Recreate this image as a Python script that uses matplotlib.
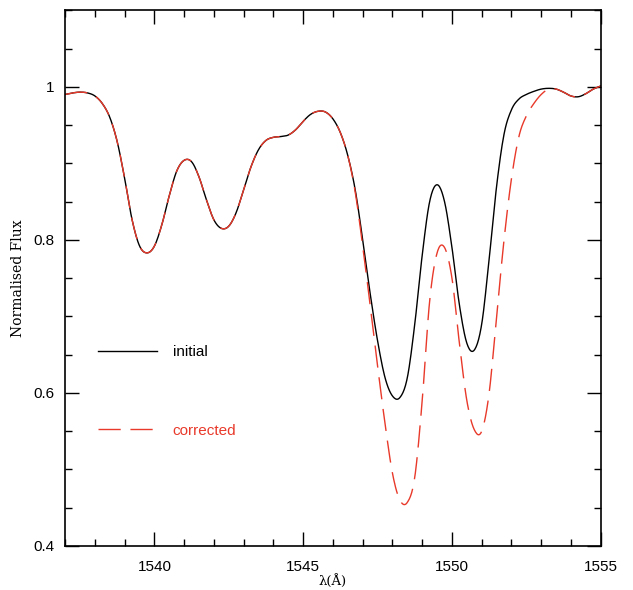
import numpy as np
import matplotlib
matplotlib.use("Agg")
import matplotlib.pyplot as plt
from matplotlib.ticker import MultipleLocator

wave = np.arange(1537.0, 1555.01, 0.25)
initial = [0.990,0.992,0.993,0.992,0.988,0.978,0.960,0.928,0.880,0.826,0.792,0.783,
           0.792,0.820,0.858,0.890,0.904,0.902,0.882,0.852,0.826,0.815,0.818,0.836,
           0.866,0.896,0.918,0.930,0.934,0.935,0.937,0.944,0.955,0.964,0.968,0.967,
           0.958,0.940,0.910,0.865,0.800,0.730,0.668,0.620,0.596,0.594,0.620,0.690,
           0.780,0.850,0.872,0.850,0.790,0.715,0.665,0.656,0.690,0.775,0.870,0.938,
           0.970,0.984,0.990,0.994,0.997,0.998,0.997,0.993,0.988,0.987,0.991,0.997,1.001]
corrected = [0.990,0.992,0.993,0.992,0.988,0.978,0.960,0.928,0.880,0.826,0.792,0.783,
           0.792,0.820,0.858,0.890,0.904,0.902,0.882,0.852,0.826,0.815,0.818,0.836,
           0.866,0.896,0.918,0.930,0.934,0.935,0.937,0.944,0.955,0.964,0.968,0.967,
           0.958,0.940,0.910,0.862,0.792,0.715,0.635,0.560,0.495,0.460,0.457,0.490,
           0.590,0.720,0.783,0.790,0.750,0.665,0.590,0.552,0.550,0.600,0.700,0.800,
           0.880,0.935,0.962,0.978,0.990,0.997,0.997,0.993,0.988,0.987,0.991,0.997,1.001]


def smooth_render(x, y, n=12):
    """Catmull-Rom rendering of the read points (curve passes through each point)."""
    x = np.asarray(x, float); y = np.asarray(y, float)
    yp = np.concatenate([[2*y[0]-y[1]], y, [2*y[-1]-y[-2]]])
    xs, ys = [], []
    t = np.linspace(0, 1, n, endpoint=False)
    for i in range(len(x)-1):
        p0, p1, p2, p3 = yp[i], yp[i+1], yp[i+2], yp[i+3]
        yy = 0.5*((2*p1) + (-p0+p2)*t + (2*p0-5*p1+4*p2-p3)*t**2 + (-p0+3*p1-3*p2+p3)*t**3)
        xs.append(x[i] + (x[i+1]-x[i])*t); ys.append(yy)
    xs.append([x[-1]]); ys.append([y[-1]])
    return np.concatenate(xs), np.concatenate(ys)


plt.rcParams['font.family'] = ['Liberation Sans', 'DejaVu Sans']
fig = plt.figure(figsize=(6.33, 5.9), dpi=100)
ax = fig.add_axes([0.103, 0.0746, 0.846, 0.908])
ax.plot(*smooth_render(wave, initial), color='black', lw=1.0, label='initial')
ax.plot(*smooth_render(wave, corrected), color='#e8392a', lw=1.0, dashes=(16, 7), label='corrected')
ax.set_xlim(1537, 1555)
ax.set_ylim(0.4, 1.1)
ax.xaxis.set_major_locator(MultipleLocator(5))
ax.xaxis.set_minor_locator(MultipleLocator(1))
ax.yaxis.set_minor_locator(MultipleLocator(0.05))
ax.set_yticks([0.4, 0.6, 0.8, 1.0])
ax.set_yticklabels(['0.4', '0.6', '0.8', '1'])
ax.tick_params(which='both', direction='in', top=True, right=True, labelsize=11)
ax.tick_params(axis='x', pad=10)
ax.tick_params(axis='y', pad=8)
ax.tick_params(which='major', length=10, width=1)
ax.tick_params(which='minor', length=5, width=1)
for s in ax.spines.values():
    s.set_linewidth(1.2)
ax.set_xlabel('λ(Å)', family='DejaVu Serif', fontsize=9.5, labelpad=0)
ax.set_ylabel('Normalised Flux', family='DejaVu Serif', fontsize=10, labelpad=6)
leg = ax.legend(loc='upper left', bbox_to_anchor=(0.035, 0.4), frameon=False,
                handlelength=3.9, handletextpad=1.0, labelspacing=4.2,
                labelcolor='linecolor', fontsize=11)
fig.savefig('out.png', dpi=100)
